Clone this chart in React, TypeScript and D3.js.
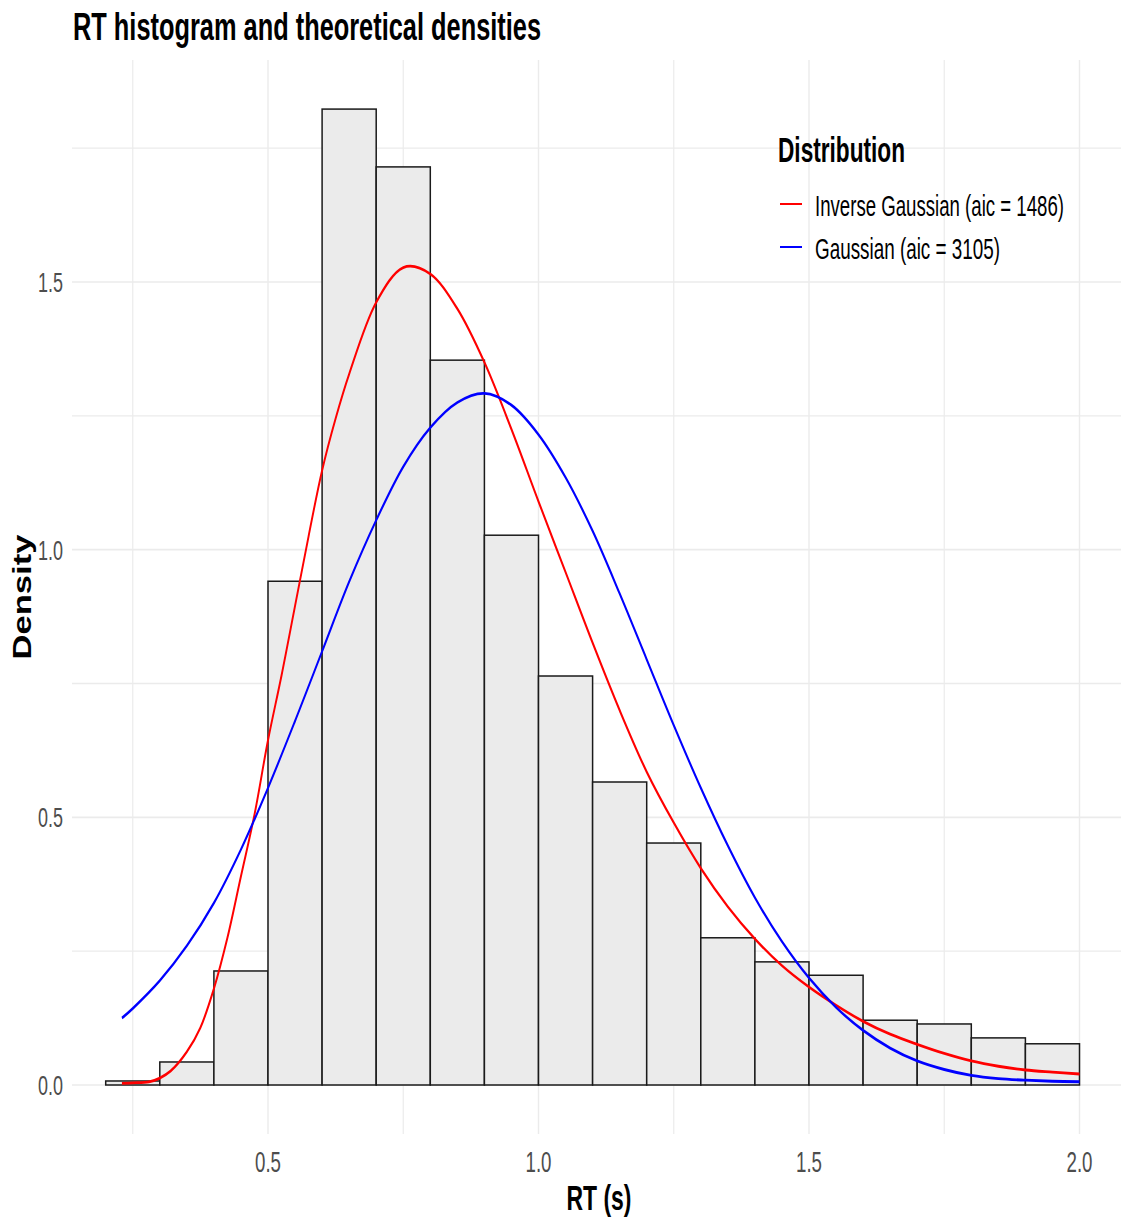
import React from "react";
import * as d3 from "d3";

const binEdges = [0.2, 0.3, 0.4, 0.5, 0.6, 0.7, 0.8, 0.9, 1.0, 1.1, 1.2, 1.3, 1.4, 1.5, 1.6, 1.7, 1.8, 1.9, 2.0];
const binDensity = [0.0075, 0.043, 0.213, 0.941, 1.823, 1.715, 1.354, 1.027, 0.764, 0.566, 0.452, 0.275, 0.23, 0.205, 0.121, 0.114, 0.088, 0.077];

const invGaussX = [0.23, 0.25, 0.28, 0.3, 0.32, 0.35, 0.375, 0.4, 0.425, 0.45, 0.475, 0.5, 0.525, 0.55, 0.575, 0.6, 0.625, 0.65, 0.7, 0.75, 0.8, 0.85, 0.9, 0.95, 1.0, 1.05, 1.1, 1.15, 1.2, 1.25, 1.3, 1.35, 1.4, 1.45, 1.5, 1.55, 1.6, 1.65, 1.7, 1.75, 1.8, 1.85, 1.9, 1.95, 2.0];
const invGaussY = [0.003, 0.004, 0.006, 0.013, 0.026, 0.062, 0.107, 0.18, 0.275, 0.39, 0.505, 0.644, 0.765, 0.895, 1.025, 1.148, 1.245, 1.328, 1.462, 1.527, 1.515, 1.45, 1.35, 1.225, 1.09, 0.958, 0.826, 0.7, 0.585, 0.49, 0.405, 0.333, 0.273, 0.223, 0.183, 0.149, 0.119, 0.095, 0.076, 0.059, 0.045, 0.035, 0.028, 0.024, 0.0205];

const gaussX = [0.23, 0.25, 0.3, 0.35, 0.4, 0.45, 0.5, 0.55, 0.6, 0.65, 0.7, 0.75, 0.8, 0.85, 0.9, 0.95, 1.0, 1.05, 1.1, 1.15, 1.2, 1.25, 1.3, 1.35, 1.4, 1.45, 1.5, 1.55, 1.6, 1.65, 1.7, 1.75, 1.8, 1.85, 1.9, 1.95, 2.0];
const gaussY = [0.125, 0.143, 0.195, 0.26, 0.34, 0.44, 0.555, 0.68, 0.81, 0.94, 1.055, 1.155, 1.228, 1.275, 1.292, 1.27, 1.215, 1.135, 1.035, 0.918, 0.795, 0.672, 0.555, 0.447, 0.35, 0.268, 0.2, 0.145, 0.102, 0.069, 0.045, 0.029, 0.018, 0.012, 0.009, 0.007, 0.006];

const xMajor = [0.5, 1.0, 1.5, 2.0];
const xMinor = [0.25, 0.75, 1.25, 1.75];
const yMajor = [0, 0.5, 1.0, 1.5];
const yMinor = [0.25, 0.75, 1.25, 1.75];

const seriesNames = ["Inverse Gaussian (aic = 1486)", "Gaussian (aic = 3105)"];
const seriesColors = ["#FF0000", "#0000FF"];

const W = 1121;
const H = 1219;
const FONT = "'Liberation Sans', Arial, sans-serif";

export default function App() {
  const panel = { left: 72, right: 1121, top: 60, bottom: 1134 };
  const x = d3.scaleLinear().domain([0.5, 2.0]).range([268, 1079.5]);
  const y = d3.scaleLinear().domain([0, 1.5]).range([1085, 282]);
  const K = 1.5; // vertical stretch of the original rendering

  const mkLine = (xs: number[], ys: number[]) =>
    d3
      .line<number>()
      .x((_, i) => x(xs[i]))
      .y((_, i) => y(ys[i]) / K)
      .curve(d3.curveCatmullRom.alpha(0.5))(xs);

  const grid = "#EBEBEB";
  const fmt = d3.format(".1f");

  return (
    <svg
      width={W}
      height={H}
      style={{ position: "absolute", left: 0, top: 0, background: "white" }}
      xmlns="http://www.w3.org/2000/svg"
    >
      <rect x={0} y={0} width={W} height={H} fill="white" />
      {/* grid */}
      {yMinor.map((v) => (
        <line key={"ym" + v} x1={panel.left} x2={panel.right} y1={y(v)} y2={y(v)} stroke={grid} strokeWidth={1.4} />
      ))}
      {yMajor.map((v) => (
        <line key={"yM" + v} x1={panel.left} x2={panel.right} y1={y(v)} y2={y(v)} stroke={grid} strokeWidth={1.6} />
      ))}
      {xMinor.map((v) => (
        <line key={"xm" + v} x1={x(v)} x2={x(v)} y1={panel.top} y2={panel.bottom} stroke={grid} strokeWidth={1.2} />
      ))}
      {xMajor.map((v) => (
        <line key={"xM" + v} x1={x(v)} x2={x(v)} y1={panel.top} y2={panel.bottom} stroke={grid} strokeWidth={1.4} />
      ))}

      {/* bars */}
      {binDensity.map((d, i) => (
        <rect
          key={"b" + i}
          x={x(binEdges[i])}
          y={y(d)}
          width={x(binEdges[i + 1]) - x(binEdges[i])}
          height={y(0) - y(d)}
          fill="#EBEBEB"
          stroke="#1a1a1a"
          strokeWidth={1.5}
        />
      ))}

      {/* curves, drawn in a vertically stretched frame */}
      <g transform={`scale(1, ${K})`}>
        <path d={mkLine(invGaussX, invGaussY) || ""} fill="none" stroke={seriesColors[0]} strokeWidth={1.9} />
        <path d={mkLine(gaussX, gaussY) || ""} fill="none" stroke={seriesColors[1]} strokeWidth={1.9} />
      </g>

      {/* y tick labels */}
      {yMajor.map((v) => (
        <text
          key={"yl" + v}
          x={63}
          y={y(v) + 10}
          textAnchor="end"
          fontFamily={FONT}
          fontSize={28}
          fill="#4D4D4D"
          textLength={25}
          lengthAdjust="spacingAndGlyphs"
        >
          {fmt(v)}
        </text>
      ))}
      {/* x tick labels */}
      {xMajor.map((v) => (
        <text
          key={"xl" + v}
          x={x(v)}
          y={1172}
          textAnchor="middle"
          fontFamily={FONT}
          fontSize={29}
          fill="#4D4D4D"
          textLength={26}
          lengthAdjust="spacingAndGlyphs"
        >
          {fmt(v)}
        </text>
      ))}

      {/* title */}
      <text
        x={73}
        y={40}
        fontFamily={FONT}
        fontWeight="bold"
        fontSize={39}
        fill="#000"
        textLength={468}
        lengthAdjust="spacingAndGlyphs"
      >
        RT histogram and theoretical densities
      </text>

      {/* axis titles */}
      <text
        x={599}
        y={1210}
        textAnchor="middle"
        fontFamily={FONT}
        fontWeight="bold"
        fontSize={35}
        fill="#000"
        textLength={65}
        lengthAdjust="spacingAndGlyphs"
      >
        RT (s)
      </text>
      <text
        transform={`translate(31, 597) rotate(-90)`}
        textAnchor="middle"
        fontFamily={FONT}
        fontWeight="bold"
        fontSize={26}
        fill="#000"
        textLength={125}
        lengthAdjust="spacingAndGlyphs"
      >
        Density
      </text>

      {/* legend */}
      <text
        x={778}
        y={162}
        fontFamily={FONT}
        fontWeight="bold"
        fontSize={35}
        fill="#000"
        textLength={127}
        lengthAdjust="spacingAndGlyphs"
      >
        Distribution
      </text>
      {seriesNames.map((name, i) => {
        const ky = [204, 247][i];
        const tw = [249, 185][i];
        return (
          <g key={"lg" + i}>
            <line x1={780} x2={802} y1={ky} y2={ky} stroke={seriesColors[i]} strokeWidth={2} />
            <text
              x={815}
              y={ky + 12}
              fontFamily={FONT}
              fontSize={30}
              fill="#000"
              textLength={tw}
              lengthAdjust="spacingAndGlyphs"
            >
              {name}
            </text>
          </g>
        );
      })}
    </svg>
  );
}
